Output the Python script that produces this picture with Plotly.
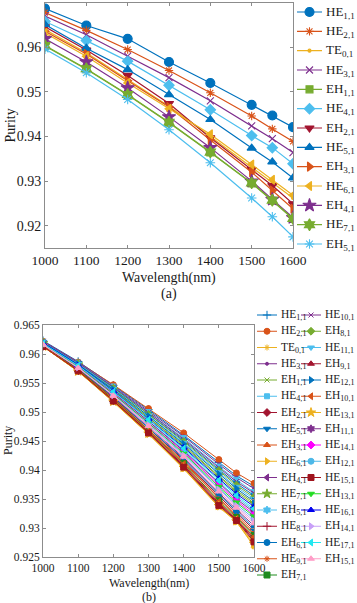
import plotly.graph_objects as go

# ---------------- data ----------------
wavelength = [1000, 1100, 1200, 1300, 1400, 1500, 1550, 1600]
x_ticks = [1000, 1100, 1200, 1300, 1400, 1500, 1600]

y_ticks_a = [0.92, 0.93, 0.94, 0.95, 0.96, 0.97]
y_ticktext_a = ["0.92", "0.93", "0.94", "0.95", "0.96", "0.97"]
y_ticks_b = [0.925, 0.93, 0.935, 0.94, 0.945, 0.95, 0.955, 0.96, 0.965]
y_ticktext_b = ["0.925", "0.93", "0.935", "0.94", "0.945", "0.95", "0.955", "0.96", "0.965"]

# panel (a)
modes_a = ["HE<sub>1,1</sub>", "HE<sub>2,1</sub>", "TE<sub>0,1</sub>", "HE<sub>3,1</sub>",
           "EH<sub>1,1</sub>", "HE<sub>4,1</sub>", "EH<sub>2,1</sub>", "HE<sub>5,1</sub>",
           "EH<sub>3,1</sub>", "HE<sub>6,1</sub>", "EH<sub>4,1</sub>", "HE<sub>7,1</sub>",
           "EH<sub>5,1</sub>"]
a_HE11 = [0.9687, 0.9649, 0.9619, 0.9567, 0.9520, 0.9471, 0.9447, 0.9421]
a_HE21 = [0.9678, 0.9638, 0.9595, 0.9548, 0.9498, 0.9446, 0.9417, 0.9389]
a_TE01 = [0.9640, 0.9588, 0.9528, 0.9468, 0.9400, 0.9331, 0.9296, 0.9262]
a_HE31 = [0.9670, 0.9628, 0.9580, 0.9532, 0.9480, 0.9424, 0.9395, 0.9364]
a_EH11 = [0.9603, 0.9551, 0.9493, 0.9431, 0.9364, 0.9295, 0.9256, 0.9215]
a_HE41 = [0.9658, 0.9615, 0.9569, 0.9515, 0.9460, 0.9402, 0.9375, 0.9339]
a_EH21 = [0.9646, 0.9594, 0.9537, 0.9474, 0.9397, 0.9326, 0.9290, 0.9249]
a_HE51 = [0.9651, 0.9598, 0.9550, 0.9494, 0.9438, 0.9374, 0.9343, 0.9307]
a_EH31 = [0.9636, 0.9585, 0.9525, 0.9466, 0.9392, 0.9320, 0.9279, 0.9238]
a_HE61 = [0.9632, 0.9580, 0.9520, 0.9462, 0.9405, 0.9337, 0.9303, 0.9268]
a_EH41 = [0.9619, 0.9567, 0.9509, 0.9444, 0.9375, 0.9300, 0.9259, 0.9218]
a_HE71 = [0.9604, 0.9552, 0.9494, 0.9432, 0.9365, 0.9296, 0.9257, 0.9216]
a_EH51 = [0.9596, 0.9543, 0.9483, 0.9415, 0.9341, 0.9262, 0.9220, 0.9175]
purity_a = [a_HE11, a_HE21, a_TE01, a_HE31, a_EH11, a_HE41, a_EH21, a_HE51,
            a_EH31, a_HE61, a_EH41, a_HE71, a_EH51]

# panel (b)
modes_b = ["HE<sub>1,1</sub>", "HE<sub>2,1</sub>", "TE<sub>0,1</sub>", "HE<sub>3,1</sub>",
           "EH<sub>1,1</sub>", "HE<sub>4,1</sub>", "EH<sub>2,1</sub>", "HE<sub>5,1</sub>",
           "EH<sub>3,1</sub>", "HE<sub>6,1</sub>", "EH<sub>4,1</sub>", "HE<sub>7,1</sub>",
           "EH<sub>5,1</sub>", "HE<sub>8,1</sub>", "EH<sub>6,1</sub>", "HE<sub>9,1</sub>",
           "EH<sub>7,1</sub>",
           "HE<sub>10,1</sub>", "EH<sub>8,1</sub>", "HE<sub>11,1</sub>", "EH<sub>9,1</sub>",
           "HE<sub>12,1</sub>", "EH<sub>10,1</sub>", "HE<sub>13,1</sub>", "EH<sub>11,1</sub>",
           "HE<sub>14,1</sub>", "EH<sub>12,1</sub>", "HE<sub>15,1</sub>", "EH<sub>13,1</sub>",
           "HE<sub>16,1</sub>", "EH<sub>14,1</sub>", "HE<sub>17,1</sub>", "EH<sub>15,1</sub>"]
b_HE11 = [0.9623, 0.9587, 0.9546, 0.9504, 0.9460, 0.9413, 0.9390, 0.9372]
b_HE21 = [0.9622, 0.9586, 0.9547, 0.9506, 0.9464, 0.9418, 0.9395, 0.9377]
b_TE01 = [0.9613, 0.9570, 0.9517, 0.9462, 0.9402, 0.9336, 0.9311, 0.9268]
b_HE31 = [0.9622, 0.9586, 0.9545, 0.9502, 0.9458, 0.9410, 0.9387, 0.9368]
b_EH11 = [0.9619, 0.9581, 0.9537, 0.9490, 0.9441, 0.9388, 0.9362, 0.9340]
b_HE41 = [0.9621, 0.9585, 0.9544, 0.9500, 0.9455, 0.9406, 0.9383, 0.9362]
b_EH21 = [0.9613, 0.9571, 0.9519, 0.9465, 0.9406, 0.9341, 0.9314, 0.9279]
b_HE51 = [0.9621, 0.9584, 0.9542, 0.9497, 0.9451, 0.9401, 0.9377, 0.9356]
b_EH31 = [0.9615, 0.9574, 0.9524, 0.9470, 0.9415, 0.9352, 0.9323, 0.9293]
b_HE61 = [0.9613, 0.9570, 0.9518, 0.9462, 0.9403, 0.9337, 0.9311, 0.9270]
b_EH41 = [0.9616, 0.9576, 0.9527, 0.9475, 0.9421, 0.9360, 0.9332, 0.9304]
b_HE71 = [0.9619, 0.9582, 0.9538, 0.9491, 0.9443, 0.9390, 0.9365, 0.9343]
b_EH51 = [0.9618, 0.9580, 0.9534, 0.9485, 0.9435, 0.9379, 0.9353, 0.9330]
b_HE81 = [0.9615, 0.9574, 0.9525, 0.9472, 0.9417, 0.9355, 0.9326, 0.9297]
b_EH61 = [0.9615, 0.9575, 0.9526, 0.9473, 0.9419, 0.9358, 0.9329, 0.9300]
b_HE91 = [0.9614, 0.9573, 0.9523, 0.9469, 0.9413, 0.9350, 0.9320, 0.9290]
b_EH71 = [0.9614, 0.9573, 0.9522, 0.9468, 0.9411, 0.9347, 0.9318, 0.9287]
b_HE101 = [0.9622, 0.9585, 0.9543, 0.9499, 0.9453, 0.9404, 0.9380, 0.9360]
b_EH81 = [0.9620, 0.9583, 0.9541, 0.9496, 0.9449, 0.9399, 0.9374, 0.9353]
b_HE111 = [0.9620, 0.9583, 0.9540, 0.9494, 0.9447, 0.9396, 0.9371, 0.9350]
b_EH91 = [0.9614, 0.9572, 0.9520, 0.9466, 0.9408, 0.9343, 0.9315, 0.9281]
b_HE121 = [0.9620, 0.9582, 0.9539, 0.9493, 0.9445, 0.9393, 0.9368, 0.9346]
b_EH101 = [0.9614, 0.9572, 0.9521, 0.9467, 0.9410, 0.9345, 0.9316, 0.9284]
b_HE131 = [0.9613, 0.9570, 0.9518, 0.9463, 0.9404, 0.9338, 0.9312, 0.9273]
b_EH111 = [0.9618, 0.9579, 0.9533, 0.9484, 0.9433, 0.9377, 0.9350, 0.9327]
b_HE141 = [0.9617, 0.9578, 0.9532, 0.9482, 0.9431, 0.9374, 0.9347, 0.9323]
b_EH121 = [0.9617, 0.9577, 0.9530, 0.9479, 0.9427, 0.9368, 0.9341, 0.9316]
b_HE151 = [0.9613, 0.9571, 0.9519, 0.9464, 0.9405, 0.9339, 0.9313, 0.9276]
b_EH131 = [0.9617, 0.9578, 0.9531, 0.9481, 0.9429, 0.9371, 0.9344, 0.9320]
b_HE161 = [0.9619, 0.9581, 0.9536, 0.9488, 0.9439, 0.9385, 0.9359, 0.9337]
b_EH141 = [0.9616, 0.9577, 0.9529, 0.9478, 0.9425, 0.9366, 0.9338, 0.9312]
b_HE171 = [0.9618, 0.9580, 0.9535, 0.9487, 0.9437, 0.9382, 0.9356, 0.9333]
b_EH151 = [0.9616, 0.9576, 0.9528, 0.9476, 0.9423, 0.9363, 0.9335, 0.9308]
purity_b = [b_HE11, b_HE21, b_TE01, b_HE31, b_EH11, b_HE41, b_EH21, b_HE51,
            b_EH31, b_HE61, b_EH41, b_HE71, b_EH51, b_HE81, b_EH61, b_HE91, b_EH71,
            b_HE101, b_EH81, b_HE111, b_EH91, b_HE121, b_EH101, b_HE131, b_EH111,
            b_HE141, b_EH121, b_HE151, b_EH131, b_HE161, b_EH141, b_HE171, b_EH151]

# ---------------- styles ----------------
BLUE, ORANGE, YELLOW, PURPLE = "#0072BD", "#D95319", "#EDB120", "#7E2F8E"
GREEN, CYAN, DARKRED = "#77AC30", "#4DBEEE", "#A2142F"

colors_a = [BLUE, ORANGE, YELLOW, PURPLE, GREEN, CYAN, DARKRED,
            BLUE, ORANGE, YELLOW, PURPLE, GREEN, CYAN]
symbols_a = ["circle", "asterisk-open", "circle", "x-thin-open", "square", "diamond",
             "triangle-down", "triangle-up", "triangle-right", "triangle-left",
             "star", "hexagram", "asterisk-open"]
sizes_a = [9, 7, 3, 7, 7, 8, 8, 8, 8, 8, 10, 9, 8]

colors_b = [BLUE, ORANGE, YELLOW, PURPLE, GREEN, CYAN, DARKRED,
            BLUE, ORANGE, YELLOW, PURPLE, GREEN, CYAN, DARKRED, BLUE, ORANGE, "#1E8B1E",
            PURPLE, GREEN, CYAN, DARKRED, BLUE, ORANGE, YELLOW, PURPLE,
            "#FF00FF", "#4DB8E8", "#A0141E", "#22DD22", "#0000EE", "#C8A0F8", "#22E8F0", "#FF9EC8"]
symbols_b = ["cross-thin-open", "circle", "asterisk-open", "circle", "x-thin-open", "square",
             "diamond", "triangle-down", "triangle-up", "triangle-right", "triangle-left",
             "star", "hexagram", "cross-thin-open", "circle", "asterisk-open", "square",
             "x-thin-open", "diamond", "triangle-down", "triangle-up", "triangle-right",
             "triangle-left", "star", "hexagram", "diamond", "circle", "square",
             "triangle-down", "triangle-up", "triangle-right", "triangle-left", "triangle-up"]
sizes_b = [6, 6, 5, 3, 5, 5, 6, 6, 6, 6, 6, 7, 6, 6, 6, 5, 6,
           5, 6, 6, 6, 6, 6, 7, 6, 6, 6, 6, 6, 6, 6, 6, 6]

FONT = "Liberation Serif, Times New Roman, serif"
TXT = "#1a1a1a"
AX = "#8c8c8c"
W, H = 357, 603

fig = go.Figure()

# ---- panel (a) curves ----
for name, vals, c, s, m in zip(modes_a, purity_a, colors_a, symbols_a, sizes_a):
    fig.add_trace(go.Scatter(
        x=wavelength, y=vals, mode="lines+markers", name=name, showlegend=False,
        line=dict(color=c, width=1.2),
        marker=dict(symbol=s, size=m, color=c, line=dict(color=c, width=1.1)),
        xaxis="x", yaxis="y"))

# ---- panel (b) curves ----
for name, vals, c, s, m in zip(modes_b, purity_b, colors_b, symbols_b, sizes_b):
    fig.add_trace(go.Scatter(
        x=wavelength, y=vals, mode="lines+markers", name=name, showlegend=False,
        line=dict(color=c, width=1),
        marker=dict(symbol=s, size=m, color=c, line=dict(color=c, width=1)),
        xaxis="x2", yaxis="y2"))

annotations = []

# ---- legend (a): one column, drawn in its own hidden axes ----
for r, (name, c, s, m) in enumerate(zip(modes_a, colors_a, symbols_a, sizes_a)):
    fig.add_trace(go.Scatter(
        x=[0, 0.5, 1], y=[r, r, r], mode="lines+markers", showlegend=False, hoverinfo="skip",
        line=dict(color=c, width=1.2),
        marker=dict(symbol=s, size=m, color=c, opacity=[0, 1, 0], line=dict(color=c, width=1.1)),
        xaxis="x3", yaxis="y3"))
    annotations.append(dict(x=1.06, y=r, xref="x3", yref="y3", text=name, showarrow=False,
                            xanchor="left", yanchor="middle",
                            font=dict(family=FONT, size=13, color=TXT)))

# ---- legend (b): two columns ----
n_col1 = 17
for i, (name, c, s, m) in enumerate(zip(modes_b, colors_b, symbols_b, sizes_b)):
    col = 0 if i < n_col1 else 1
    r = i if i < n_col1 else i - n_col1
    x0 = col * 2.2
    fig.add_trace(go.Scatter(
        x=[x0, x0 + 0.5, x0 + 1], y=[r, r, r], mode="lines+markers", showlegend=False,
        hoverinfo="skip", line=dict(color=c, width=1),
        marker=dict(symbol=s, size=m, color=c, opacity=[0, 1, 0], line=dict(color=c, width=1)),
        xaxis="x4", yaxis="y4"))
    annotations.append(dict(x=x0 + 1.12, y=r, xref="x4", yref="y4", text=name, showarrow=False,
                            xanchor="left", yanchor="middle",
                            font=dict(family=FONT, size=11.5, color=TXT)))

# ---- titles ----
def ann(text, x, y, size, angle=0):
    return dict(text=text, x=x / W, y=1 - y / H, xref="paper", yref="paper", showarrow=False,
                xanchor="center", yanchor="middle", textangle=angle,
                font=dict(family=FONT, size=size, color=TXT))

annotations += [
    ann("Purity", 10, 125.5, 14, -90),
    ann("Wavelength(nm)", 169, 277.5, 14),
    ann("(a)", 169, 293.5, 14),
    ann("Purity", 8, 441, 12, -90),
    ann("Wavelength(nm)", 148.5, 582.5, 12),
    ann("(b)", 148.5, 596.5, 12),
]

def xax(dom, size, anchor):
    return dict(domain=dom, range=[1000, 1600], tickvals=x_ticks, ticks="inside", ticklen=3,
                tickcolor=AX, showline=True, linecolor=AX, linewidth=1, mirror="ticks",
                showgrid=False, zeroline=False, anchor=anchor, automargin=False,
                tickfont=dict(family=FONT, size=size, color=TXT))

def yax(dom, rng, tv, tt, size, anchor):
    return dict(domain=dom, range=rng, tickvals=tv, ticktext=tt, ticks="inside", ticklen=3,
                tickcolor=AX, showline=True, linecolor=AX, linewidth=1, mirror="ticks",
                showgrid=False, zeroline=False, anchor=anchor, automargin=False,
                tickfont=dict(family=FONT, size=size, color=TXT))

hidden = dict(visible=False, showgrid=False, zeroline=False, fixedrange=True)

fig.update_layout(
    width=W, height=H, autosize=False,
    margin=dict(l=0, r=0, t=0, b=0, pad=0),
    paper_bgcolor="white", plot_bgcolor="white",
    showlegend=False,
    xaxis=xax([45 / W, 293 / W], 13.5, "y"),
    yaxis=yax([1 - 248 / H, 1 - 2.7 / H], [0.915, 0.97], y_ticks_a, y_ticktext_a, 14, "x"),
    xaxis2=xax([43 / W, 254 / W], 11.5, "y2"),
    yaxis2=yax([1 - 557 / H, 1 - 325 / H], [0.925, 0.965], y_ticks_b, y_ticktext_b, 11.5, "x2"),
    xaxis3=dict(domain=[297 / W, 1.0], range=[0, 60 / 25], anchor="y3", **hidden),
    yaxis3=dict(domain=[1 - 253.67 / H, 1 - 2.33 / H], range=[12.5, -0.5], anchor="x3", **hidden),
    xaxis4=dict(domain=[257 / W, 1.0], range=[0, 100 / 20], anchor="y4", **hidden),
    yaxis4=dict(domain=[1 - 583.125 / H, 1 - 306.875 / H], range=[16.5, -0.5], anchor="x4", **hidden),
    annotations=annotations,
    font=dict(family=FONT, color=TXT),
)

fig.write_html(
    "out.html",
    config={"responsive": False, "displayModeBar": False},
    post_script="document.body.style.margin='0';document.body.style.overflow='hidden';"
                "document.documentElement.style.overflow='hidden';",
)
